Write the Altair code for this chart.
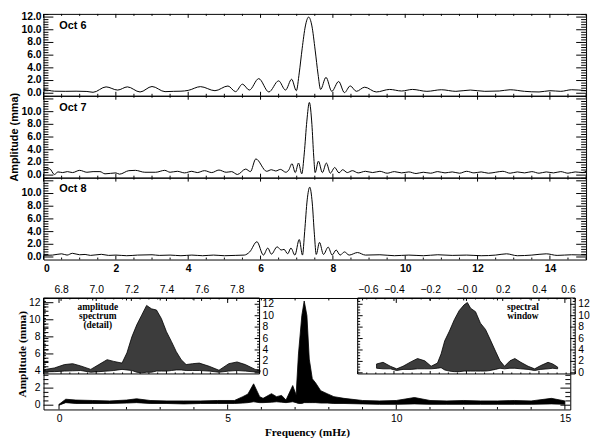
import altair as alt
import pandas as pd

# ---------------- data ----------------
PANEL_LABELS = ["Oct 6", "Oct 7", "Oct 8"]

# (frequency mHz, amplitude mma)
OCT6 = [(0.0, 0.6), (0.15, 0.45), (0.3, 0.32), (0.6, 0.3), (0.9, 0.32), (1.2, 0.28), (1.37, 0.15),
        (1.73, 1.0), (2.05, 0.5), (2.32, 1.0), (2.67, 0.2), (3.0, 1.06), (3.36, 0.25), (3.6, 0.3),
        (3.8, 0.32), (4.0, 0.45), (4.34, 1.04), (4.74, 0.4), (5.1, 1.14), (5.31, 0.25), (5.5, 1.43),
        (5.69, 0.5), (5.95, 2.3), (6.23, 0.2), (6.5, 1.95), (6.69, 0.5), (6.86, 2.2), (6.99, 0.4),
        (7.07, 3.2), (7.15, 7.0), (7.24, 10.6), (7.33, 12.0), (7.42, 10.6), (7.51, 6.8), (7.59, 3.0),
        (7.66, 0.6), (7.81, 2.5), (7.97, 0.3), (8.16, 1.85), (8.32, 0.1), (8.48, 1.15), (8.65, 0.3),
        (8.88, 0.95), (9.2, 0.2), (9.57, 0.6), (9.9, 0.35), (10.2, 0.6), (10.6, 0.3), (11.0, 0.55),
        (11.4, 0.3), (11.8, 0.5), (12.2, 0.3), (12.6, 0.35), (12.9, 0.55), (13.3, 0.3), (13.7, 0.2),
        (14.0, 0.4), (14.3, 0.3), (14.6, 0.55), (15.0, 0.4)]

OCT7 = [(0.0, 0.8), (0.17, 1.0), (0.3, 0.1), (0.4, 0.5), (0.53, 0.4), (0.66, 0.55), (0.8, 0.4),
        (1.0, 0.75), (1.2, 0.45), (1.37, 0.55), (1.56, 0.55), (1.7, 0.2), (2.0, 0.35), (2.1, 0.15),
        (2.36, 0.7), (2.54, 0.75), (2.8, 0.45), (3.1, 0.45), (3.35, 0.75), (3.5, 0.45), (3.7, 0.6),
        (3.9, 0.35), (4.1, 0.6), (4.25, 0.4), (4.45, 0.7), (4.65, 0.4), (4.85, 0.8), (5.05, 0.45),
        (5.2, 0.55), (5.36, 0.1), (5.59, 0.95), (5.72, 0.55), (5.87, 2.55), (6.17, 0.6), (6.3, 0.85),
        (6.42, 0.65), (6.55, 0.9), (6.7, 0.45), (6.78, 0.8), (6.87, 1.8), (6.96, 0.4), (7.05, 1.9),
        (7.14, 0.2), (7.21, 3.5), (7.28, 8.5), (7.35, 11.45), (7.42, 8.0), (7.47, 3.0), (7.51, 0.4),
        (7.6, 2.2), (7.71, 0.4), (7.82, 1.9), (7.93, 0.3), (8.05, 1.2), (8.17, 0.35), (8.27, 0.85),
        (8.4, 0.4), (8.54, 0.7), (8.7, 0.35), (8.9, 0.6), (9.1, 0.4), (9.3, 0.6), (9.5, 0.3),
        (9.7, 0.55), (9.9, 0.35), (10.1, 0.5), (10.3, 0.25), (10.5, 0.45), (10.7, 0.3), (10.9, 0.55),
        (11.1, 0.35), (11.3, 0.5), (11.5, 0.3), (11.7, 0.6), (11.9, 0.35), (12.1, 0.5), (12.3, 0.3),
        (12.5, 0.45), (12.7, 0.6), (12.9, 0.3), (13.1, 0.5), (13.3, 0.35), (13.5, 0.55), (13.7, 0.3),
        (13.9, 0.5), (14.1, 0.35), (14.3, 0.55), (14.5, 0.3), (14.7, 0.5), (14.9, 0.4), (15.0, 0.6)]

OCT8 = [(0.0, 0.25), (0.25, 0.3), (0.5, 0.5), (0.65, 0.3), (0.8, 0.58), (1.0, 0.35), (1.15, 0.4),
        (1.3, 0.25), (1.6, 0.42), (1.8, 0.25), (2.0, 0.3), (2.3, 0.2), (2.6, 0.3), (3.0, 0.35),
        (3.2, 0.25), (3.5, 0.3), (3.8, 0.2), (4.1, 0.3), (4.4, 0.2), (4.7, 0.3), (5.0, 0.2),
        (5.3, 0.25), (5.55, 0.3), (5.7, 0.8), (5.9, 2.4), (6.08, 0.3), (6.2, 1.4), (6.3, 0.45),
        (6.46, 1.6), (6.57, 1.1), (6.65, 1.2), (6.75, 0.5), (6.84, 1.4), (6.95, 0.3), (7.07, 2.75),
        (7.16, 0.3), (7.22, 4.0), (7.29, 9.0), (7.36, 11.0), (7.43, 8.5), (7.49, 3.5), (7.54, 0.4),
        (7.63, 2.3), (7.74, 0.4), (7.87, 1.55), (7.98, 0.3), (8.09, 1.1), (8.2, 0.3), (8.32, 0.8),
        (8.45, 0.3), (8.68, 0.7), (8.9, 0.3), (9.3, 0.35), (9.7, 0.2), (10.1, 0.3), (10.5, 0.2),
        (10.9, 0.35), (11.3, 0.25), (11.7, 0.3), (12.1, 0.2), (12.5, 0.3), (12.8, 0.5), (13.1, 0.2),
        (13.5, 0.3), (13.9, 0.5), (14.2, 0.25), (14.6, 0.35), (15.0, 0.3)]

# combined spectrum: (frequency, lower envelope, upper envelope)
COMBINED = [(0.0, 0.0, 0.1), (0.2, 0.3, 0.7), (0.5, 0.2, 0.6), (1.0, 0.2, 0.55), (1.5, 0.2, 0.5),
            (2.0, 0.25, 0.6), (2.3, 0.3, 0.75), (2.7, 0.2, 0.55), (3.2, 0.2, 0.5), (3.7, 0.15, 0.5),
            (4.2, 0.2, 0.5), (4.7, 0.2, 0.55), (5.2, 0.2, 0.55), (5.45, 0.25, 1.0), (5.6, 0.3, 1.3),
            (5.77, 0.4, 2.5), (5.95, 0.3, 1.0), (6.05, 0.3, 0.8), (6.3, 0.35, 1.35), (6.45, 0.4, 1.0),
            (6.6, 0.35, 1.15), (6.73, 0.3, 0.6), (6.93, 0.4, 2.3), (7.03, 0.3, 1.2), (7.1, 0.2, 6.0),
            (7.2, 0.2, 10.5), (7.27, 0.3, 12.2), (7.35, 0.3, 10.5), (7.42, 0.3, 5.4), (7.51, 0.3, 3.1),
            (7.61, 0.3, 2.6), (7.76, 0.25, 1.7), (7.95, 0.25, 1.35), (8.15, 0.2, 1.0), (8.45, 0.2, 0.8),
            (9.0, 0.15, 0.55), (9.5, 0.1, 0.5), (10.0, 0.1, 0.55), (10.54, 0.15, 0.9), (11.0, 0.1, 0.55),
            (11.5, 0.1, 0.5), (12.0, 0.1, 0.55), (12.5, 0.1, 0.5), (13.0, 0.1, 0.5), (13.5, 0.1, 0.55),
            (14.0, 0.1, 0.5), (14.6, 0.15, 0.8), (15.0, 0.1, 0.5)]

# inset: amplitude spectrum detail (frequency, lower, upper)
DETAIL = [(6.706, 0.17, 0.57), (6.762, 0.2, 0.85), (6.819, 0.3, 1.44), (6.866, 0.35, 1.6),
          (6.912, 0.4, 1.2), (6.969, 0.1, 0.6), (7.015, 0.2, 1.44), (7.062, 0.3, 2.3), (7.10, 0.4, 2.0),
          (7.147, 0.6, 1.7), (7.175, 0.5, 3.5), (7.203, 0.4, 6.3), (7.231, 0.1, 8.4), (7.259, 0.0, 10.1),
          (7.287, 0.1, 11.8), (7.315, 0.1, 11.2), (7.343, 0.3, 11.0), (7.371, 0.3, 9.5), (7.40, 0.3, 7.2),
          (7.428, 0.4, 5.5), (7.456, 0.5, 3.7), (7.484, 0.5, 2.3), (7.512, 0.4, 1.44), (7.549, 0.4, 1.6),
          (7.587, 0.4, 1.7), (7.643, 0.3, 1.15), (7.699, 0.1, 0.45), (7.755, 0.3, 1.6), (7.802, 0.4, 1.9),
          (7.849, 0.3, 1.44), (7.905, 0.15, 0.6), (7.933, 0.1, 0.45)]

# inset: spectral window (frequency offset, lower, upper)
WINDOW = [(-0.496, 0.8, 1.55), (-0.46, 0.7, 1.84), (-0.42, 0.7, 1.15), (-0.385, 0.4, 0.69),
          (-0.35, 0.6, 1.15), (-0.305, 0.6, 1.95), (-0.27, 0.7, 2.5), (-0.23, 0.7, 2.1), (-0.195, 0.7, 1.15),
          (-0.16, 0.8, 1.7), (-0.14, 0.9, 3.3), (-0.12, 0.5, 5.6), (-0.094, 0.3, 7.3), (-0.067, 0.2, 9.3),
          (-0.04, 0.2, 10.9), (-0.013, 0.3, 11.9), (0.005, 0.3, 12.3), (0.023, 0.3, 11.3), (0.05, 0.3, 10.7),
          (0.077, 0.3, 8.7), (0.105, 0.3, 7.6), (0.13, 0.4, 5.9), (0.16, 0.6, 3.8), (0.185, 0.8, 2.1),
          (0.21, 0.7, 1.15), (0.24, 0.8, 2.1), (0.267, 0.8, 2.5), (0.3, 0.7, 1.84), (0.34, 0.6, 1.15),
          (0.376, 0.4, 0.69), (0.41, 0.6, 1.27), (0.45, 0.7, 1.84), (0.476, 0.8, 1.55), (0.503, 0.7, 1.0)]

DETAIL_NOTE = "amplitude\nspectrum\n(detail)"
WINDOW_NOTE = "spectral\nwindow"
Y_TITLE = "Amplitude (mma)"
X_TITLE = "Frequency (mHz)"

TOP_X_TICKS = [0, 2, 4, 6, 8, 10, 12, 14]
TOP_Y_TICKS = [0, 2, 4, 6, 8, 10, 12]
BOT_X_TICKS = [0, 5, 10, 15]
BOT_Y_TICKS = [0, 2, 4, 6, 8, 10, 12]
DETAIL_X_TICKS = [6.8, 7.0, 7.2, 7.4, 7.6, 7.8]
WINDOW_X_TICKS = [-0.6, -0.4, -0.2, 0.0, 0.2, 0.4, 0.6]
INSET_Y_TICKS = [0, 2, 4, 6, 8, 10, 12]

# ---------------- layout / style ----------------
TOP_W, TOP_H = 550, 83
BOT_W, BOT_H = 534, 113
INS_H = 77
INS1_RANGE = [0, 219]
INS2_RANGE = [318.5, 539]

TOP_X_DOM = [0, 15]
TOP_Y_DOM = [-0.4, 12.5]
BOT_X_DOM = [-0.46, 15.16]
BOT_Y_DOM = [-0.5, 12.55]
INS1_X_DOM = [6.70, 7.93]
INS2_X_DOM = [-0.6, 0.6]
INS_Y_DOM = [-0.2, 13.1]

SANS = "Liberation Sans"
SERIF = "Liberation Serif"
FS = 10.5


def minor(lo, hi, step, majors):
    n = int(round((hi - lo) / step))
    vals = [round(lo + i * step, 4) for i in range(n + 1)]
    return [v for v in vals if all(abs(v - m) > 1e-6 for m in majors)]


# auxiliary layers never declare an axis (an explicit null would switch the shared axis off)
def yticks(vals, edge, length, xs, ys):
    df = pd.DataFrame({"v": vals})
    return alt.Chart(df).mark_rule(color="black", strokeWidth=1, x2Offset=length).encode(
        y=alt.Y("v:Q", scale=ys),
        x=alt.XDatum(edge, scale=xs),
        x2=alt.X2Datum(edge),
    )


def xticks(vals, edge, length, xs, ys):
    df = pd.DataFrame({"v": vals})
    return alt.Chart(df).mark_rule(color="black", strokeWidth=1, y2Offset=length).encode(
        x=alt.X("v:Q", scale=xs),
        y=alt.YDatum(edge, scale=ys),
        y2=alt.Y2Datum(edge),
    )


def ylabels(vals, fmt, edge, dx, align, xs, ys, weight):
    df = pd.DataFrame({"v": vals, "t": [format(v, fmt) for v in vals]})
    return alt.Chart(df).mark_text(align=align, baseline="middle", dx=dx, font=SANS, fontSize=FS,
                                   fontWeight=weight, color="black").encode(
        y=alt.Y("v:Q", scale=ys),
        x=alt.XDatum(edge, scale=xs),
        text="t:N",
    )


def box_ticks(xs, ys, xdom, ydom, xmaj, xmin, ymaj, ymin, xl, yl):
    return [
        yticks(ymaj, xdom[0], yl, xs, ys), yticks(ymin, xdom[0], yl / 2, xs, ys),
        yticks(ymaj, xdom[1], -yl, xs, ys), yticks(ymin, xdom[1], -yl / 2, xs, ys),
        xticks(xmaj, ydom[0], -xl, xs, ys), xticks(xmin, ydom[0], -xl / 2, xs, ys),
        xticks(xmaj, ydom[1], xl, xs, ys), xticks(xmin, ydom[1], xl / 2, xs, ys),
    ]


def top_panel(pairs, label, yvals, show_x, ytitle):
    xs = alt.Scale(domain=TOP_X_DOM, nice=False, zero=False)
    ys = alt.Scale(domain=TOP_Y_DOM, nice=False, zero=False)
    df = pd.DataFrame(pairs, columns=["f", "a"])
    if show_x:
        xaxis = alt.Axis(values=TOP_X_TICKS, format="d", ticks=False, domain=False, grid=False,
                         labelPadding=4, labelFont=SANS, labelFontSize=FS, labelColor="black",
                         labelFontWeight="bold", labelOverlap=False, title=None)
    else:
        xaxis = None
    if ytitle:
        yaxis = alt.Axis(labels=False, ticks=False, domain=False, grid=False, title=ytitle,
                         titleFont=SANS, titleFontSize=11, titleFontWeight="bold", titleColor="black",
                         titlePadding=24)
    else:
        yaxis = None
    line = alt.Chart(df).mark_line(color="black", strokeWidth=1, interpolate="monotone").encode(
        x=alt.X("f:Q", scale=xs, axis=xaxis),
        y=alt.Y("a:Q", scale=ys, axis=yaxis),
    )
    txt = alt.Chart(pd.DataFrame({"t": [label]})).mark_text(
        align="left", baseline="middle", dx=16, dy=12, font=SANS, fontSize=11, fontWeight="bold",
        color="black").encode(
        x=alt.XDatum(TOP_X_DOM[0], scale=xs),
        y=alt.YDatum(TOP_Y_DOM[1], scale=ys),
        text="t:N",
    )
    labs = ylabels(yvals, ".1f", TOP_X_DOM[0], -2, "right", xs, ys, "bold")
    ticks = box_ticks(xs, ys, TOP_X_DOM, TOP_Y_DOM,
                      TOP_X_TICKS, minor(0, 15, 0.5, TOP_X_TICKS),
                      TOP_Y_TICKS, minor(0, 12.4, 0.4, TOP_Y_TICKS), 4, 10)
    return alt.layer(line, txt, labs, *ticks).properties(width=TOP_W, height=TOP_H)


p1 = top_panel(OCT6, PANEL_LABELS[0], TOP_Y_TICKS, False, None)
p2 = top_panel(OCT7, PANEL_LABELS[1], TOP_Y_TICKS[:-1], False, Y_TITLE)
p3 = top_panel(OCT8, PANEL_LABELS[2], TOP_Y_TICKS[:-1], True, None)
top = alt.vconcat(p1, p2, p3, spacing=0, bounds="flush")

# ---------------- bottom: combined spectrum with two insets ----------------
bxs = alt.Scale(domain=BOT_X_DOM, nice=False, zero=False)
bys = alt.Scale(domain=BOT_Y_DOM, nice=False, zero=False)
comb = pd.DataFrame(COMBINED, columns=["f", "lo", "hi"])
band = alt.Chart(comb).mark_area(fill="black", stroke="black", strokeWidth=0.8).encode(
    x=alt.X("f:Q", scale=bxs, axis=alt.Axis(values=BOT_X_TICKS, format="d", ticks=False, domain=False,
                                             grid=False, labelPadding=4, labelFont=SANS, labelFontSize=FS,
                                             labelColor="black", labelOverlap=False, title=X_TITLE,
                                             titleFont=SERIF, titleFontSize=11.5, titleFontWeight="bold",
                                             titleColor="black", titlePadding=3)),
    y=alt.Y("lo:Q", scale=bys, axis=alt.Axis(labels=False, ticks=False, domain=False, grid=False,
                                              title=Y_TITLE, titleFont=SERIF, titleFontSize=11.5,
                                              titleFontWeight="bold", titleColor="black", titlePadding=16)),
    y2="hi:Q",
)
main_ticks = [
    ylabels(BOT_Y_TICKS, "d", BOT_X_DOM[0], -3, "right", bxs, bys, "normal"),
    yticks(BOT_Y_TICKS, BOT_X_DOM[0], 10, bxs, bys),
    yticks(minor(0, 12.5, 0.5, BOT_Y_TICKS), BOT_X_DOM[0], 5, bxs, bys),
    yticks([0, 2], BOT_X_DOM[1], -10, bxs, bys),
    yticks([0.5, 1, 1.5, 2.5, 3, 3.5], BOT_X_DOM[1], -5, bxs, bys),
    xticks(BOT_X_TICKS, BOT_Y_DOM[0], -5, bxs, bys),
    xticks(minor(0, 15, 1, BOT_X_TICKS), BOT_Y_DOM[0], -2.5, bxs, bys),
    xticks(BOT_X_TICKS, BOT_Y_DOM[1], 5, bxs, bys),
    xticks(minor(0, 15, 1, BOT_X_TICKS), BOT_Y_DOM[1], 2.5, bxs, bys),
]
main_group = alt.layer(band, *main_ticks)


def inset(rows, xdom, xrange, xticks_major, xminor_step, note, note_dx, note_anchor, label_expr):
    xs = alt.Scale(domain=xdom, range=xrange, nice=False, zero=False)
    ys = alt.Scale(domain=INS_Y_DOM, range=[INS_H, 0], nice=False, zero=False)
    df = pd.DataFrame(rows, columns=["f", "lo", "hi"])
    xaxis_kw = dict(orient="top", values=xticks_major, format=".1f", ticks=False, domain=False, grid=False,
                    labelPadding=4, labelFont=SANS, labelFontSize=FS, labelColor="black",
                    labelOverlap=False, title=None)
    if label_expr:
        xaxis_kw["labelExpr"] = label_expr
    area = alt.Chart(df).mark_area(fill="#3c3c3c", stroke="black", strokeWidth=0.8).encode(
        x=alt.X("f:Q", scale=xs, axis=alt.Axis(**xaxis_kw)),
        y=alt.Y("lo:Q", scale=ys, axis=None),
        y2="hi:Q",
    )
    frame = alt.Chart(pd.DataFrame({"k": [0]})).mark_rect(
        fill="white", fillOpacity=0, stroke="black", strokeWidth=1).encode(
        x=alt.XDatum(xdom[0], scale=xs), x2=alt.X2Datum(xdom[1]),
        y=alt.YDatum(INS_Y_DOM[0], scale=ys), y2=alt.Y2Datum(INS_Y_DOM[1]),
    )
    note_mark = alt.Chart(pd.DataFrame({"t": [note]})).mark_text(
        align="center", baseline="top", dx=note_dx, dy=4, lineBreak="\n", lineHeight=9,
        font=SERIF, fontSize=9.5, fontWeight="bold", color="black").encode(
        x=alt.XDatum(xdom[note_anchor], scale=xs),
        y=alt.YDatum(INS_Y_DOM[1], scale=ys),
        text="t:N",
    )
    labs = ylabels(INSET_Y_TICKS, "d", xdom[1], 3, "left", xs, ys, "normal")
    xmin_vals = minor(xticks_major[0], xticks_major[-1], xminor_step, xticks_major)
    ticks = box_ticks(xs, ys, xdom, INS_Y_DOM, xticks_major, xmin_vals,
                      INSET_Y_TICKS, minor(0, 13, 0.5, INSET_Y_TICKS), 3, 5)
    return alt.layer(area, frame, note_mark, labs, *ticks)


ins1 = inset(DETAIL, INS1_X_DOM, INS1_RANGE, DETAIL_X_TICKS, 0.05, DETAIL_NOTE, 55, 0, None)
ins2 = inset(WINDOW, INS2_X_DOM, INS2_RANGE, WINDOW_X_TICKS, 0.05, WINDOW_NOTE, -53, 1,
             "abs(datum.value) < 1e-9 ? '\u22120.0' : format(datum.value, '.1f')")

bottom = alt.layer(main_group, ins1, ins2).resolve_scale(x="independent", y="independent").properties(
    width=BOT_W, height=BOT_H)

chart = alt.vconcat(top, bottom, spacing=9).properties(
    padding={"left": 0, "top": 0, "right": 0, "bottom": 0}, background="white"
).configure_view(stroke="black", strokeWidth=1)

chart.save("out.html", embed_options={"renderer": "svg", "actions": False})
